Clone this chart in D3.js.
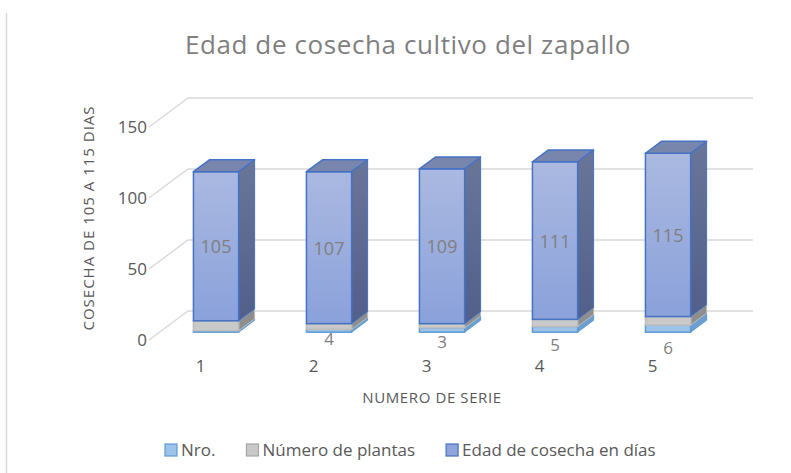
<!DOCTYPE html>
<html>
<head>
<meta charset="utf-8">
<script src="https://cdn.jsdelivr.net/npm/d3@7"></script>
<style>
  body { margin: 0; background: #fff; }
  svg { font-family: 'Open Sans', sans-serif; }
</style>
</head>
<body>
<div id="chart"></div>
<script>
// data
const categories = ['1', '2', '3', '4', '5'];
const nro = [1, 2, 3, 4, 5];
const plantas = [7, 4, 3, 5, 6];
const edad = [105, 107, 109, 111, 115];
const plantasLabels = [null, '4', '3', '5', '6'];
const yTicks = [0, 50, 100, 150];
const seriesNames = ['Nro.', 'Número de plantas', 'Edad de cosecha en días'];

const width = 791;
const height = 473;

// pseudo 3d: depth vector of the floor
const depth = { x: 39, y: -29 };
const zFront = 0.27;
const zBack = 0.68;

const svg = d3.select('#chart')
  .append('svg')
  .attr('width', width)
  .attr('height', height);

// chart area border on the left
svg.append('line')
  .attr('x1', 6.5).attr('x2', 6.5)
  .attr('y1', 13).attr('y2', height)
  .attr('stroke', '#d9d9d9')
  .attr('stroke-width', 1.5);

const xScale = d3.scaleBand()
  .domain(categories)
  .range([149, 714])
  .paddingInner(0.6)
  .paddingOuter(0.3);

const yScale = d3.scaleLinear()
  .domain([0, 150])
  .range([340, 127]);

const proj = (x, v, z) => [x + z * depth.x, yScale(v) + z * depth.y];

// gridlines: left wall diagonal + back wall
const grid = svg.append('g').attr('class', 'grid');
yTicks.forEach(t => {
  const a = proj(xScale.range()[0], t, 0);
  const b = proj(xScale.range()[0], t, 1);
  const c = proj(xScale.range()[1], t, 1);
  grid.append('polyline')
    .attr('points', [a, b, c].map(p => p.join(',')).join(' '))
    .attr('fill', 'none')
    .attr('stroke', '#d9d9d9')
    .attr('stroke-width', 1.5);
});

// y tick labels
svg.append('g').selectAll('text')
  .data(yTicks)
  .enter()
  .append('text')
  .attr('x', 147)
  .attr('y', d => yScale(d) + 6)
  .attr('text-anchor', 'end')
  .attr('fill', '#595959')
  .style('font-size', '17px')
  .text(d => d);

// gradients
const defs = svg.append('defs');
function grad(id, top, bottom) {
  const g = defs.append('linearGradient')
    .attr('id', id)
    .attr('x1', 0).attr('y1', 0).attr('x2', 0).attr('y2', 1);
  g.append('stop').attr('offset', '0%').attr('stop-color', top);
  g.append('stop').attr('offset', '100%').attr('stop-color', bottom);
}
grad('edadFront', '#abb9e1', '#8aa1da');
grad('edadSide', '#6a7698', '#515f8a');

const styles = [
  { front: '#9dc3e8', side: '#6c9fcf', top: '#7fb0de', stroke: '#5b9bd5' },
  { front: '#c9c9c9', side: '#8e8e8e', top: '#a5a5a5', stroke: '#bdbdbd' },
  { front: 'url(#edadFront)', side: 'url(#edadSide)', top: '#7886ad', stroke: '#4472c4' }
];

const stacked = categories.map((c, i) => {
  const vals = [nro[i], plantas[i], edad[i]];
  let base = 0;
  return vals.map((v, s) => {
    const seg = { cat: c, i: i, s: s, y0: base, y1: base + v, value: v };
    base += v;
    return seg;
  });
});

const bw = xScale.bandwidth();
const barsG = svg.append('g').attr('class', 'bars');

stacked.forEach(segs => {
  const g = barsG.append('g');
  segs.forEach(seg => {
    const st = styles[seg.s];
    const x = xScale(seg.cat);
    const fl = proj(x, seg.y1, zFront);
    const fb = proj(x, seg.y0, zFront);
    // side face
    const side = [
      proj(x + bw, seg.y0, zFront), proj(x + bw, seg.y0, zBack),
      proj(x + bw, seg.y1, zBack), proj(x + bw, seg.y1, zFront)
    ];
    g.append('polygon')
      .attr('points', side.map(p => p.join(',')).join(' '))
      .attr('fill', st.side)
      .attr('stroke', st.stroke)
      .attr('stroke-width', 1)
      .attr('stroke-linejoin', 'round');
    // front face
    g.append('rect')
      .attr('x', fl[0])
      .attr('y', fl[1])
      .attr('width', bw)
      .attr('height', fb[1] - fl[1])
      .attr('fill', st.front)
      .attr('stroke', st.stroke)
      .attr('stroke-width', 1.5);
    if (seg.s === 2) {
      const top = [
        proj(x, seg.y1, zFront), proj(x + bw, seg.y1, zFront),
        proj(x + bw, seg.y1, zBack), proj(x, seg.y1, zBack)
      ];
      g.append('polygon')
        .attr('points', top.map(p => p.join(',')).join(' '))
        .attr('fill', st.top)
        .attr('stroke', st.stroke)
        .attr('stroke-width', 1.5)
        .attr('stroke-linejoin', 'round');
      // value label
      g.append('text')
        .attr('x', fl[0] + bw / 2)
        .attr('y', (fl[1] + fb[1]) / 2 + 7)
        .attr('text-anchor', 'middle')
        .attr('fill', '#7f7f7f')
        .style('font-size', '18px')
        .text(seg.value);
    }
  });
});

// labels for numero de plantas
svg.append('g').selectAll('text')
  .data(categories)
  .enter()
  .append('text')
  .attr('x', d => proj(xScale(d) + bw / 2, 0, zFront)[0])
  .attr('y', (d, i) => proj(0, 0, zFront)[1] + 10 + i * 3)
  .attr('text-anchor', 'middle')
  .attr('fill', '#7f7f7f')
  .style('font-size', '17px')
  .text((d, i) => plantasLabels[i]);

// category labels
svg.append('g').selectAll('text')
  .data(categories)
  .enter()
  .append('text')
  .attr('x', d => xScale(d) + bw / 2 - 5)
  .attr('y', 372)
  .attr('text-anchor', 'middle')
  .attr('fill', '#595959')
  .style('font-size', '17px')
  .text(d => d);

// axis titles
svg.append('text')
  .attr('x', 432)
  .attr('y', 403)
  .attr('text-anchor', 'middle')
  .attr('fill', '#595959')
  .style('font-size', '15px')
  .style('letter-spacing', '0.6px')
  .text('NUMERO DE SERIE');

svg.append('text')
  .attr('transform', 'translate(94, 218) rotate(-90)')
  .attr('text-anchor', 'middle')
  .attr('fill', '#595959')
  .style('font-size', '15px')
  .style('letter-spacing', '1px')
  .text('COSECHA DE 105 A 115 DIAS');

// title
svg.append('text')
  .attr('x', 408)
  .attr('y', 54)
  .attr('text-anchor', 'middle')
  .attr('fill', '#7f7f7f')
  .style('font-size', '26px')
  .style('letter-spacing', '0.6px')
  .text('Edad de cosecha  cultivo del zapallo');

// legend
const legend = svg.append('g').attr('class', 'legend');
let lx = 165;
seriesNames.forEach((name, i) => {
  legend.append('rect')
    .attr('x', lx)
    .attr('y', 444)
    .attr('width', 12)
    .attr('height', 12)
    .attr('fill', i === 2 ? '#8ea5dc' : styles[i].front)
    .attr('stroke', i === 1 ? '#a5a5a5' : styles[i].stroke)
    .attr('stroke-width', 1.2);
  const t = legend.append('text')
    .attr('x', lx + 16)
    .attr('y', 456)
    .attr('fill', '#595959')
    .style('font-size', '17px')
    .text(name);
  lx += 16 + t.node().getComputedTextLength() + 31;
});
</script>
</body>
</html>
